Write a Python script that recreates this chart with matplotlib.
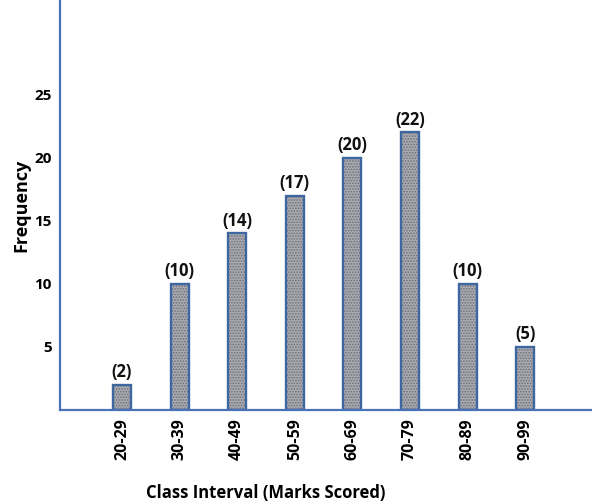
import matplotlib
matplotlib.use("Agg")
import matplotlib.pyplot as plt

categories = ["20-29", "30-39", "40-49", "50-59", "60-69", "70-79", "80-89", "90-99"]
frequency = [2, 10, 14, 17, 20, 22, 10, 5]
y_ticks = [5, 10, 15, 20, 25]

plt.rcParams['font.family'] = ['Open Sans', 'DejaVu Sans']
plt.rcParams['hatch.linewidth'] = 0.8

fig = plt.figure(figsize=(5.92, 5.04), dpi=100)
ax = fig.add_axes([0.101, 0.1865, 0.899, 0.8135])

x = list(range(len(categories)))
blue = "#4a72b8"
ax.bar(x, frequency, width=0.31, color="#a9a9b2", edgecolor="#6f6f78", hatch="......", linewidth=0)
ax.bar(x, frequency, width=0.31, color="none", edgecolor="#3f679f", linewidth=1.7)

for xi, v in zip(x, frequency):
    ax.text(xi, v + 0.3, f"({v})", ha="center", va="bottom", fontsize=12, fontweight="bold", color="#111111")

ax.set_xlim(-1.08, 8.16)
ax.set_ylim(0, 32.5)
ax.set_xticks(x)
ax.set_xticklabels(categories, rotation=90, fontsize=11.5, fontweight="bold")
ax.set_yticks(y_ticks)
ax.set_yticklabels([str(t) for t in y_ticks], fontsize=11, fontweight="bold")
ax.tick_params(length=0, pad=6)

for s in ["top", "right"]:
    ax.spines[s].set_visible(False)
for s in ["left", "bottom"]:
    ax.spines[s].set_color(blue)
    ax.spines[s].set_linewidth(1.6)

ax.set_ylabel("Frequency", fontsize=13, fontweight="bold", labelpad=3)
fig.text(0.448, 0.022, "Class Interval (Marks Scored)", ha="center", va="center", fontsize=12, fontweight="bold")

fig.savefig("out.png", dpi=100)
